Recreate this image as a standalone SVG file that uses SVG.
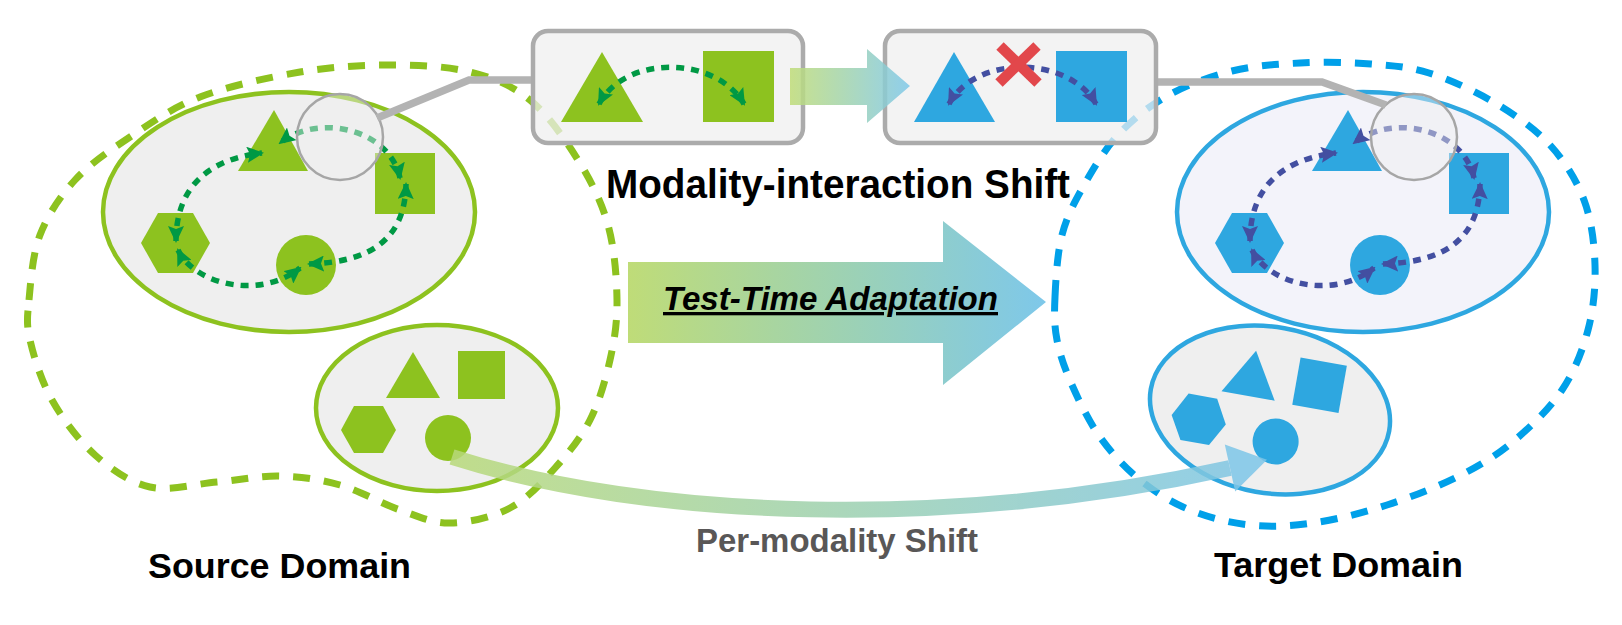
<svg xmlns="http://www.w3.org/2000/svg" width="1622" height="625" viewBox="0 0 1622 625">
<style>
.ell-g{fill:#EFEFEF;stroke:#8DC21F;stroke-width:4.5}
.ell-b{fill:#F3F3FA;stroke:#2EA7E0;stroke-width:4.5}
.ell-b2{fill:#EFEFEF;stroke:#2EA7E0;stroke-width:4.5}
.sg{fill:#8DC21F}
.sb{fill:#2EA7E0}
.dot-g{fill:none;stroke:#009944;stroke-width:5.5;stroke-dasharray:8 7;marker-start:url(#ag);marker-end:url(#ag)}
.dot-b{fill:none;stroke:#434FA1;stroke-width:5.5;stroke-dasharray:8 7;marker-start:url(#ab);marker-end:url(#ab)}
.mag{fill:#F0F0F0;fill-opacity:0.45;stroke:#A6A6A6;stroke-width:2.5}
.lead{fill:none;stroke:#B3B3B3;stroke-width:7.5;stroke-linejoin:miter}
.box{fill:#EFEFEF;fill-opacity:0.75;stroke:#ABABAB;stroke-width:4.5}
.dom-g{fill:none;stroke:#8DC21F;stroke-width:7;stroke-dasharray:17 14}
.dom-b{fill:none;stroke:#00A0E9;stroke-width:7;stroke-dasharray:17 14}
.t{font-family:"Liberation Sans",Arial,Helvetica,sans-serif;font-weight:bold}
</style>
<defs>
<marker id="ag" markerUnits="userSpaceOnUse" markerWidth="17" markerHeight="16" viewBox="0 0 17 16" refX="15" refY="8" orient="auto-start-reverse"><path d="M0,0 L17,8 L0,16 L3,8 Z" fill="#009944"/></marker>
<marker id="ab" markerUnits="userSpaceOnUse" markerWidth="17" markerHeight="16" viewBox="0 0 17 16" refX="15" refY="8" orient="auto-start-reverse"><path d="M0,0 L17,8 L0,16 L3,8 Z" fill="#434FA1"/></marker>
<linearGradient id="gTTA" gradientUnits="userSpaceOnUse" x1="628" y1="0" x2="1046" y2="0"><stop offset="0" stop-color="#BFDC78"/><stop offset="1" stop-color="#7EC8EA"/></linearGradient>
<linearGradient id="gSmall" gradientUnits="userSpaceOnUse" x1="790" y1="0" x2="910" y2="0"><stop offset="0" stop-color="#BFDC78"/><stop offset="1" stop-color="#7EC8EA"/></linearGradient>
<linearGradient id="gBand" gradientUnits="userSpaceOnUse" x1="452" y1="0" x2="1267" y2="0"><stop offset="0" stop-color="#B8D97A"/><stop offset="1" stop-color="#7EC6E8"/></linearGradient>
</defs>

<!-- Source upper ellipse: modality interactions -->
<g id="source-interactions">
<ellipse class="ell-g" cx="289" cy="212" rx="186" ry="120"/>
<polygon class="sg" points="274,110 308,171 238,171"/>
<rect class="sg" x="375" y="153" width="60" height="61"/>
<polygon class="sg" points="141,243 158,213 193,213 210,243 193,273 158,273"/>
<circle class="sg" cx="306" cy="265" r="30"/>
<path class="dot-g" d="M176 241 C176 195 200 160 262 153"/>
<path class="dot-g" d="M178 250 C195 285 260 300 300 268"/>
<path class="dot-g" d="M309 264 C370 262 405 240 406 184"/>
<path class="dot-g" d="M400 178 C390 130 320 112 280 143"/>
<circle class="mag" cx="340" cy="137" r="43"/>
</g>

<!-- Target upper ellipse: modality interactions -->
<g id="target-interactions" transform="translate(1074 0)">
<ellipse class="ell-b" cx="289" cy="212" rx="186" ry="120"/>
<polygon class="sb" points="274,110 308,171 238,171"/>
<rect class="sb" x="375" y="153" width="60" height="61"/>
<polygon class="sb" points="141,243 158,213 193,213 210,243 193,273 158,273"/>
<circle class="sb" cx="306" cy="265" r="30"/>
<path class="dot-b" d="M176 241 C176 195 200 160 262 153"/>
<path class="dot-b" d="M178 250 C195 285 260 300 300 268"/>
<path class="dot-b" d="M309 264 C370 262 405 240 406 184"/>
<path class="dot-b" d="M400 178 C390 130 320 112 280 143"/>
<circle class="mag" cx="340" cy="137" r="43"/>
</g>

<!-- Source lower ellipse: modalities -->
<g id="source-modalities">
<ellipse class="ell-g" cx="437" cy="408" rx="121" ry="83"/>
<polygon class="sg" points="413,352 440,398 386,398"/>
<rect class="sg" x="458" y="351" width="47" height="48"/>
<polygon class="sg" points="341,430 354,406 383,406 396,430 383,453 354,453"/>
<circle class="sg" cx="448" cy="438" r="23"/>
</g>

<!-- Target lower ellipse: modalities (shifted) -->
<g id="target-modalities" transform="rotate(10 1270 410) translate(833 2)">
<ellipse class="ell-b2" cx="437" cy="408" rx="121" ry="83"/>
<polygon class="sb" points="413,352 440,398 386,398"/>
<rect class="sb" x="458" y="351" width="47" height="48"/>
<polygon class="sb" points="341,430 354,406 383,406 396,430 383,453 354,453"/>
<circle class="sb" cx="448" cy="438" r="23"/>
</g>

<!-- Domain outlines -->
<g id="source-domain">
<path class="dom-g" d="M29 300 C30.7 282.5 32.3 255 40 235 C47.7 215 60 196.3 75 180 C90 163.7 109.2 150.8 130 137 C150.8 123.2 171.7 107.8 200 97 C228.3 86.2 268.3 77.3 300 72 C331.7 66.7 361.7 65 390 65 C418.3 65 446.7 66.2 470 72 C493.3 77.8 512 85.3 530 100 C548 114.7 565 139.2 578 160 C591 180.8 601.5 201.7 608 225 C614.5 248.3 616.7 277.5 617 300 C617.3 322.5 614.5 340 610 360 C605.5 380 599.2 402 590 420 C580.8 438 568.3 453.3 555 468 C541.7 482.7 527.5 498.8 510 508 C492.5 517.2 468.3 522.7 450 523 C431.7 523.3 418.3 516.3 400 510 C381.7 503.7 360 490.7 340 485 C320 479.3 300.5 476.5 280 476 C259.5 475.5 238.7 480.2 217 482 C195.3 483.8 170.3 491.5 150 487 C129.7 482.5 111.3 469.5 95 455 C78.7 440.5 62.8 419.2 52 400 C41.2 380.8 33.8 356.7 30 340 C26.2 323.3 27.3 317.5 29 300 Z"/>
<text class="t" x="148" y="578" font-size="35" fill="#000000" textLength="263" lengthAdjust="spacingAndGlyphs">Source Domain</text>
</g>
<g id="target-domain">
<path class="dom-b" d="M1055 297 C1055.8 279.5 1057.3 253.3 1062 235 C1066.7 216.7 1073.7 203.7 1083 187 C1092.3 170.3 1104 150.2 1118 135 C1132 119.8 1148 106.7 1167 96 C1186 85.3 1209.8 76.5 1232 71 C1254.2 65.5 1276.8 64.2 1300 63 C1323.2 61.8 1349.5 62.3 1371 64 C1392.5 65.7 1408.3 66.5 1429 73 C1449.7 79.5 1474.8 91 1495 103 C1515.2 115 1535.2 128.8 1550 145 C1564.8 161.2 1576.5 180 1584 200 C1591.5 220 1594.3 243.3 1595 265 C1595.7 286.7 1593.5 309.2 1588 330 C1582.5 350.8 1574.2 371.7 1562 390 C1549.8 408.3 1531.8 425.8 1515 440 C1498.2 454.2 1482.3 464.2 1461 475 C1439.7 485.8 1411.7 497 1387 505 C1362.3 513 1335.8 519.7 1313 523 C1290.2 526.3 1270.5 527.2 1250 525 C1229.5 522.8 1208.3 517.5 1190 510 C1171.7 502.5 1155 492.2 1140 480 C1125 467.8 1111.3 452.8 1100 437 C1088.7 421.2 1079.2 401.2 1072 385 C1064.8 368.8 1059.8 354.7 1057 340 C1054.2 325.3 1054.2 314.5 1055 297 Z"/>
<text class="t" x="1214" y="577" font-size="35" fill="#000000" textLength="249" lengthAdjust="spacingAndGlyphs">Target Domain</text>
</g>

<!-- Connectors -->
<g id="connectors">
<polyline class="lead" points="377,118 469,80 535,80"/>
<polyline class="lead" points="1154,82 1322,82 1386,105"/>
<g opacity="0.85">
<path d="M452 457 C650 520 950 530 1230 468" fill="none" stroke="url(#gBand)" stroke-width="16"/>
<polygon points="1224.8,444.6 1267,459.8 1235.2,491.4" fill="#7EC6E8"/>
</g>
<polygon points="628,262 943,262 943,221 1046,302 943,385 943,343 628,343" fill="url(#gTTA)"/>
</g>

<!-- Modality-interaction boxes -->
<g id="source-pair-box">
<rect class="box" x="533" y="31" width="270" height="112" rx="15"/>
<polygon class="sg" points="602,52 643,122 561,122"/>
<rect class="sg" x="703" y="51" width="71" height="71"/>
<path class="dot-g" d="M599 104 C625 55 715 55 744 104"/>
</g>
<g id="target-pair-box">
<rect class="box" x="885" y="31" width="271" height="112" rx="15"/>
<polygon class="sb" points="954,52 995,122 914,122"/>
<rect class="sb" x="1056" y="51" width="71" height="71"/>
<path class="dot-b" d="M949 104 C975 55 1068 55 1096 104"/>
<g stroke="#E2474B" stroke-width="10.5">
<line x1="1000" y1="46" x2="1038" y2="83"/>
<line x1="1037" y1="46" x2="999" y2="83"/>
</g>
</g>
<g id="box-arrow">
<polygon points="790,68 867,68 867,49 910,86 867,123 867,105 790,105" fill="url(#gSmall)" opacity="0.85"/>
</g>

<!-- Labels -->
<g id="labels">
<text class="t" x="606" y="198" font-size="40" fill="#000000" textLength="464" lengthAdjust="spacingAndGlyphs">Modality-interaction Shift</text>
<text class="t" x="663" y="310" font-size="33" font-style="italic" fill="#000000" text-decoration="underline" textLength="335" lengthAdjust="spacingAndGlyphs">Test-Time Adaptation</text>
<text class="t" x="696" y="552" font-size="33" fill="#595757" textLength="282" lengthAdjust="spacingAndGlyphs">Per-modality Shift</text>
</g>
</svg>
